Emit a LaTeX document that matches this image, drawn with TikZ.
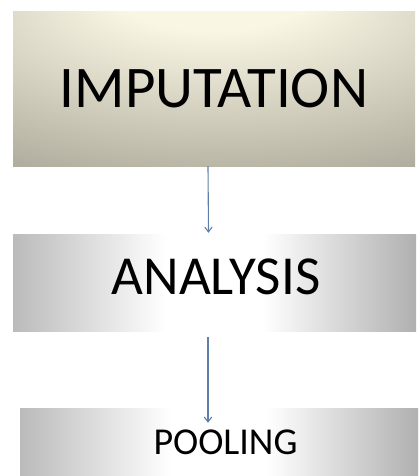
\documentclass[tikz,border=0pt]{standalone}
\usepackage{fontspec}
\setmainfont{Carlito}
\usetikzlibrary{arrows.meta, positioning}

\definecolor{glowcream}{HTML}{FAF6E4}
\definecolor{edgeolive}{HTML}{8A887A}
\definecolor{edgegray}{HTML}{939393}
\definecolor{arrowblue}{HTML}{5F80A8}

\pgfdeclareradialshading{imputationglow}{\pgfpoint{0bp}{36bp}}{%
  color(0bp)=(glowcream); color(12bp)=(glowcream);
  color(55bp)=(edgeolive!80!glowcream); color(85bp)=(edgeolive)}
\pgfdeclarehorizontalshading{stepband}{100bp}{%
  color(0bp)=(edgegray); color(14bp)=(edgegray);
  color(44bp)=(white); color(56bp)=(white);
  color(82bp)=(edgegray); color(100bp)=(edgegray)}

\tikzset{
  stagebox/.style={rectangle, inner sep=0pt, shading=stepband, text=black},
  flowarrow/.style={-{Straight Barb[length=1.7mm, width=2.6mm]}, draw=arrowblue, line width=1.1pt}
}

\begin{document}
\begin{tikzpicture}[x=1pt, y=-1pt]
\useasboundingbox (0,0) rectangle (418,476);

\node[stagebox, shading=imputationglow, minimum width=402pt, minimum height=154pt,
  font=\fontsize{59}{59}\selectfont] (imputation) at (214,89) {IMPUTATION};
\node[stagebox, minimum width=403pt, minimum height=97pt,
  font=\fontsize{55}{55}\selectfont] (analysis) at (214.5,282.5)
  {\raisebox{11pt}{\hspace*{3pt}ANALYSIS}};
\node[stagebox, minimum width=398pt, minimum height=68pt,
  font=\fontsize{38}{38}\selectfont] (pooling) at (219,442)
  {\hspace*{13pt}POOLING};

% connectors
\draw[flowarrow] ([xshift=-6pt]imputation.south) -- ([xshift=-6pt, yshift=1pt]analysis.north);
\draw[flowarrow] ([xshift=-6.5pt, yshift=-6pt]analysis.south) -- ([xshift=-11pt, yshift=-15pt]pooling.north);
\end{tikzpicture}
\end{document}
